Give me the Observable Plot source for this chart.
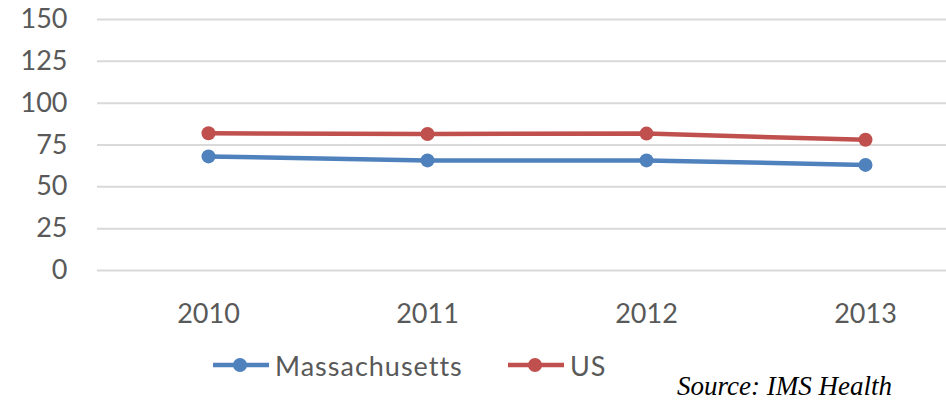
<!DOCTYPE html>
<html><head><meta charset="utf-8">
<script src="https://cdn.jsdelivr.net/npm/d3@7"></script>
<script src="https://cdn.jsdelivr.net/npm/@observablehq/plot@0.6"></script>
<style>
body{margin:0;background:#fff;}
#wrap{position:relative;width:946px;height:400px;overflow:hidden;font-family:Lato,sans-serif;}
#chart svg{display:block;}
.item{position:absolute;top:350px;height:30px;display:flex;align-items:center;font-size:27px;color:#595959;line-height:1;letter-spacing:1px;}
.item svg{margin-right:6px;}
#source{position:absolute;right:54px;top:373px;font-family:"Liberation Serif",serif;font-style:italic;font-size:27px;line-height:1;color:#000;}
</style></head>
<body>
<div id="wrap">
  <div id="chart"></div>
  <div id="legend"></div>
  <div id="source">Source: IMS Health</div>
</div>
<script>
const years = ["2010", "2011", "2012", "2013"];
const massachusetts = [68.2, 65.8, 65.8, 63.1];
const us = [82.0, 81.6, 81.8, 78.1];
const yTicks = [0, 25, 50, 75, 100, 125, 150];
const seriesNames = ["Massachusetts", "US"];
const seriesColors = ["#4F81BD", "#C0504D"];

const data = [
  ...years.map((y, i) => ({year: y, value: massachusetts[i], series: seriesNames[0]})),
  ...years.map((y, i) => ({year: y, value: us[i], series: seriesNames[1]}))
];

const chart = Plot.plot({
  width: 946,
  height: 340,
  marginLeft: 97,
  marginRight: 0,
  marginTop: 19,
  marginBottom: 70,
  style: {fontFamily: "Lato, sans-serif", fontSize: "27px", color: "#595959", background: "#fff"},
  x: {type: "point", domain: years, range: [207, 866], padding: 0, label: null, tickSize: 0, tickPadding: 33},
  y: {domain: [0, 150], ticks: yTicks, label: null, tickSize: 0, tickPadding: 30},
  color: {domain: seriesNames, range: seriesColors},
  marks: [
    Plot.ruleY(yTicks, {stroke: "#D9D9D9", strokeWidth: 2}),
    Plot.line(data, {x: "year", y: "value", z: "series", stroke: "series", strokeWidth: 4.5}),
    Plot.dot(data, {x: "year", y: "value", fill: "series", r: 7})
  ]
});
document.getElementById("chart").appendChild(chart);

const legendLefts = [213, 508];
const legend = document.getElementById("legend");
seriesNames.forEach((name, i) => {
  const item = document.createElement("div");
  item.className = "item";
  item.style.left = legendLefts[i] + "px";
  const c = seriesColors[i];
  item.innerHTML = `<svg width="56" height="20"><line x1="0" y1="10" x2="56" y2="10" stroke="${c}" stroke-width="4.5" stroke-linecap="round"/><circle cx="27" cy="10" r="7" fill="${c}"/></svg><span>${name}</span>`;
  legend.appendChild(item);
});
</script>
</body></html>
